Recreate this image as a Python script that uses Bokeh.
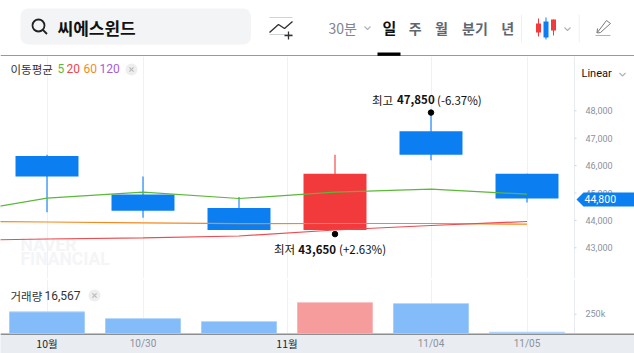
from bokeh.plotting import figure
from bokeh.layouts import column
from bokeh.models import FixedTicker, NumeralTickFormatter, Label, BoxAnnotation
from bokeh.core.properties import value
from bokeh.embed import file_html
from bokeh.resources import INLINE

KR = "Noto Sans CJK KR"
LAT = "Roboto"

# ---------- data ----------
title = "씨에스윈드"
idx = [0, 1, 2, 3, 4, 5]
opens = [46350, 44950, 44450, 43650, 47250, 45700]
closes = [45600, 44350, 43650, 45700, 46400, 44800]
highs = [46400, 45600, 44850, 46400, 47850, 45700]
lows = [44300, 44100, 43650, 43650, 46200, 44650]
volumes = [281000, 194000, 155000, 402000, 389000, 16567]

ma_idx = [-1, 0, 1, 2, 3, 4, 5]
ma5 = [44215, 44810, 45029, 44799, 45029, 45139, 44956]
ma20 = [43266, 43321, 43365, 43431, 43650, 43814, 43960]
ma60 = [43970, 43942, 43912, 43880, 43887, 43887, 43861]

price_ticks = [43000, 44000, 45000, 46000, 47000, 48000]
volume_ticks = [250000]
date_ticks = [1, 4, 5]
date_labels = {1: "10/30", 4: "11/04", 5: "11/05"}
month_ticks = [0, 2.5]
month_labels = ["10월", "11월"]
grid_ticks = [0, 1, 2.5, 4, 5]

BLUE, RED = "#0b7ef2", "#f2393c"
WIDTH = 634
X0 = -46.5 / 96
X_AXIS = (574 - 46.5) / 96
X_FULL = (634 - 46.5) / 96
PX = 1 / 96          # one pixel along x
PY = 1 / 0.0274      # one pixel along the price axis


def X(px):
    return (px - 46.5) / 96


def Y(py):
    return 48000 + (110.3 - py) * PY


def base(height, **kw):
    return figure(width=WIDTH, height=height, output_backend="svg", toolbar_location=None,
                  min_border=0, outline_line_color=None, **kw)


def style_inner_axis(a):
    a.axis_line_color = None
    a.major_tick_line_color = None
    a.minor_tick_line_color = None
    a.major_tick_out = 0
    a.major_tick_in = 0
    a.minor_tick_out = 0
    a.minor_tick_in = 0
    a.major_label_standoff = -49
    a.major_label_text_font = LAT
    a.major_label_text_font_size = "9px"
    a.major_label_text_color = "#8b929e"


# ---------- header (pixel space of the page) ----------
h = base(56, x_range=(0, 634), y_range=(56, 0))
h.axis.visible = False
h.grid.visible = False
h.add_layout(BoxAnnotation(left=20, right=250.5, top=8, bottom=44, fill_color="#f3f4f6",
                           fill_alpha=1, line_alpha=0, border_radius=8, level="underlay"))
h.circle([38], [25], radius=6, fill_alpha=0, line_color="#222", line_width=1.8)
h.line([42.5, 46.5], [29.5, 33.5], line_color="#222", line_width=1.8)


def htext(x, y, t, size, color, style="normal", align="left", font=KR):
    h.text([x], [y], text=[t], text_font=value(font), text_font_size=size, text_color=color,
           text_font_style=style, text_align=align, text_baseline="middle")


htext(57, 27, title, "17px", "#111", "bold")
h.line([269, 292], [17, 17], line_color="#cfd2d6", line_width=1)
h.line([269, 292], [34, 34], line_color="#cfd2d6", line_width=1)
h.line([269, 278, 284, 292], [32, 24, 28, 21], line_color="#333", line_width=1.4)
h.line([284, 292], [35, 35], line_color="#333", line_width=1.3)
h.line([288, 288], [31, 39], line_color="#333", line_width=1.3)
htext(328, 27, "30분", "14px", "#80868f")
h.line([364, 367, 370], [26, 29, 26], line_color="#aeb2b8", line_width=1.1)
htext(389, 27, "일", "15px", "#111", "bold", "center")
htext(414.7, 27, "주", "14px", "#5f6670", "bold", "center")
htext(441, 27, "월", "14px", "#5f6670", "bold", "center")
htext(474.5, 27, "분기", "14px", "#5f6670", "bold", "center")
htext(507.3, 27, "년", "14px", "#5f6670", "bold", "center")
h.line([521, 521], [14, 42], line_color="#eef0f2", line_width=1)
h.line([578.7, 578.7], [14, 42], line_color="#eef0f2", line_width=1)
h.segment([538, 545.5, 553], [18, 17, 19], [538, 545.5, 553], [36, 39, 35],
          line_color=[RED, BLUE, RED], line_width=1)
h.quad(left=[535.5, 543, 550.5], right=[540.5, 548, 555.5], top=[23, 21, 19], bottom=[32, 37, 30],
       fill_color=[RED, BLUE, RED], line_alpha=0)
h.line([564, 567, 570], [27, 30, 27], line_color="#aeb2b8", line_width=1.1)
h.line([595, 610], [35, 35], line_color="#aeb2b8", line_width=1)
h.line([597, 596.5, 606, 610, 600, 597], [28, 32.5, 20, 23, 32, 32.5], line_color="#777", line_width=1)
h.quad(left=[377], right=[400], top=[52], bottom=[55.5], fill_color="#000", line_alpha=0)
h.line([0, 634], [55.5, 55.5], line_color="#333", line_width=1)

# ---------- price panel ----------
p = base(222, x_range=(X0, X_FULL), y_range=(41880, 49982), y_axis_location="right")
p.xaxis.visible = False
p.ygrid.visible = False
p.xgrid.ticker = FixedTicker(ticks=grid_ticks)
p.xgrid.grid_line_color = "#eff1f4"
ax = p.yaxis[0]
ax.ticker = FixedTicker(ticks=price_ticks)
ax.formatter = NumeralTickFormatter(format="0,0")
style_inner_axis(ax)

p.line([X_AXIS, X_AXIS], [41880, 49982], line_color="#e8ebef", line_width=1)
p.segment([X_AXIS] * 6, price_ticks, [X_AXIS + 2 * PX] * 6, price_ticks, line_color="#d0d3d8", line_width=1)


def ptext(x, y, t, color="#333", size="11.5px", font=KR, align="left", style="normal", **kw):
    p.text([X(x)], [Y(y)], text=[t], text_font=value(font), text_font_size=size, text_color=color,
           text_align=align, text_baseline="middle", text_font_style=style, **kw)


ptext(20, 244, "NAVER", "#f4f5f7", "17.5px", LAT, style="bold", level="underlay")
ptext(20, 258.5, "FINANCIAL", "#f4f5f7", "17.5px", LAT, style="bold", level="underlay")

colors = [RED if c > o else BLUE for o, c in zip(opens, closes)]
p.segment(idx, highs, idx, lows, line_color=colors, line_width=1.1)
p.vbar(x=idx, width=0.656, top=[max(a, b) for a, b in zip(opens, closes)],
       bottom=[min(a, b) for a, b in zip(opens, closes)], fill_color=colors, line_alpha=0)
p.line(ma_idx, ma60, line_color="#f5891f", line_width=1.2)
p.line(ma_idx, ma20, line_color="#ee4b4f", line_width=1.2)
p.line(ma_idx, ma5, line_color="#5cb83a", line_width=1.2)

# extremes
hi_i, lo_i = 4, 3
p.scatter([hi_i], [highs[hi_i] + 85], size=5.5, color="black")
p.scatter([lo_i], [lows[lo_i] - 150], size=5.5, color="black")


def note(x, y, xo, yo, t, style="normal", align="left"):
    p.add_layout(Label(x=x, y=y, x_offset=xo, y_offset=yo, text=t, text_font=KR, text_font_size="11.5px",
                       text_font_style=style, text_color="#111", text_align=align, text_baseline="middle"))


note(hi_i, highs[hi_i], -59, 15, "최고")
note(hi_i, highs[hi_i], -34, 15, "47,850", "bold")
note(hi_i, highs[hi_i], 6, 15, "(-6.37%)")
note(lo_i, lows[lo_i], -61, -19, "최저")
note(lo_i, lows[lo_i], 1, -19, "43,650", "bold", "right")
note(lo_i, lows[lo_i], 4, -19, "(+2.63%)")

ptext(10, 68, "이동평균")
ptext(57, 68, "5", "#5db83a", font=LAT, size="12px")
ptext(66, 68, "20", "#f2444b", font=LAT, size="12px")
ptext(83, 68, "60", "#f5891f", font=LAT, size="12px")
ptext(99, 68, "120", "#a45ed6", font=LAT, size="12px")
ptext(581, 73, "Linear", "#111", "11px", LAT)
p.line([X(619), X(622), X(625)], [Y(72.5), Y(75.5), Y(72.5)], line_color="#aeb2b8", line_width=1.1)

cx, cy = X(131), Y(69)
p.scatter([cx], [cy], size=12, fill_color="#eeeeee", line_alpha=0)
p.scatter([cx], [cy], size=6, marker="x", line_color="#bbbbbb", line_width=1.2)

# current price tag, above the axis labels
tag_y = closes[-1]
p.patch([X(576), X(583), X(634), X(634), X(583)],
        [tag_y - 1 * PY, tag_y + 6 * PY, tag_y + 6 * PY, tag_y - 8 * PY, tag_y - 8 * PY],
        fill_color=BLUE, line_alpha=0, level="overlay")
p.text([X(584)], [tag_y - 1 * PY], text=[format(closes[-1], ",")], text_font=value(LAT), text_font_size="10.5px",
       text_color="#ffffff", text_baseline="middle", level="overlay")

# ---------- separator ----------
sep = base(1, x_range=(0, 1), y_range=(0, 1), background_fill_color="#bcc4cb")
sep.axis.visible = False
sep.grid.visible = False

# ---------- volume panel ----------
v = base(54, x_range=(X0, X_FULL), y_range=(0, 700000), y_axis_location="right")
v.xaxis.visible = False
v.ygrid.visible = False
v.xgrid.ticker = FixedTicker(ticks=grid_ticks)
v.xgrid.grid_line_color = "#eff1f4"
ya = v.yaxis[0]
ya.ticker = FixedTicker(ticks=volume_ticks)
ya.major_label_overrides = {250000: "250k"}
style_inner_axis(ya)
v.line([X_AXIS, X_AXIS], [0, 700000], line_color="#e8ebef", line_width=1)
v.segment([X_AXIS], volume_ticks, [X_AXIS + 2 * PX], volume_ticks, line_color="#d0d3d8", line_width=1)

vcolors = ["#f79c9c" if c > o else "#84bcf9" for o, c in zip(opens, closes)]
vtops = ["#f9c6c6" if c > o else "#b9d9fb" for o, c in zip(opens, closes)]
v.vbar(x=idx, width=0.786, top=volumes, bottom=0, fill_color=vcolors, line_alpha=0)
v.segment([i - 0.393 for i in idx], volumes, [i + 0.393 for i in idx], volumes, line_color=vtops, line_width=1)

vy = (333 - 295) / 0.0772 * 1000
v.text([X(10)], [vy], text=["거래량"], text_font=value(KR), text_font_size="11.5px", text_color="#333",
       text_baseline="middle")
v.text([X(44)], [vy], text=[format(16567, ",")], text_font=value(LAT), text_font_size="12px", text_color="#333",
       text_baseline="middle")
vx = X(94)
v.scatter([vx], [vy], size=12, fill_color="#eeeeee", line_alpha=0)
v.scatter([vx], [vy], size=6, marker="x", line_color="#bbbbbb", line_width=1.2)

# ---------- date band ----------
b = base(20, x_range=(X0, X_FULL), y_range=(20, 0), background_fill_color="#e9ecf1")
b.axis.visible = False
b.grid.visible = False
b.line([X0, X_FULL], [0.5, 0.5], line_color="#333", line_width=1)
b.text(date_ticks, [10] * 3, text=[date_labels[d] for d in date_ticks], text_font=value(LAT), text_font_size="10px",
       text_color="#8b929e", text_align="center", text_baseline="middle")
b.text(month_ticks, [10] * 2, text=month_labels, text_font=value(KR), text_font_size="10.5px",
       text_color="#222", text_align="center", text_baseline="middle")

page = column(h, p, sep, v, b, spacing=0)
open("out.html", "w").write(file_html(page, INLINE))
